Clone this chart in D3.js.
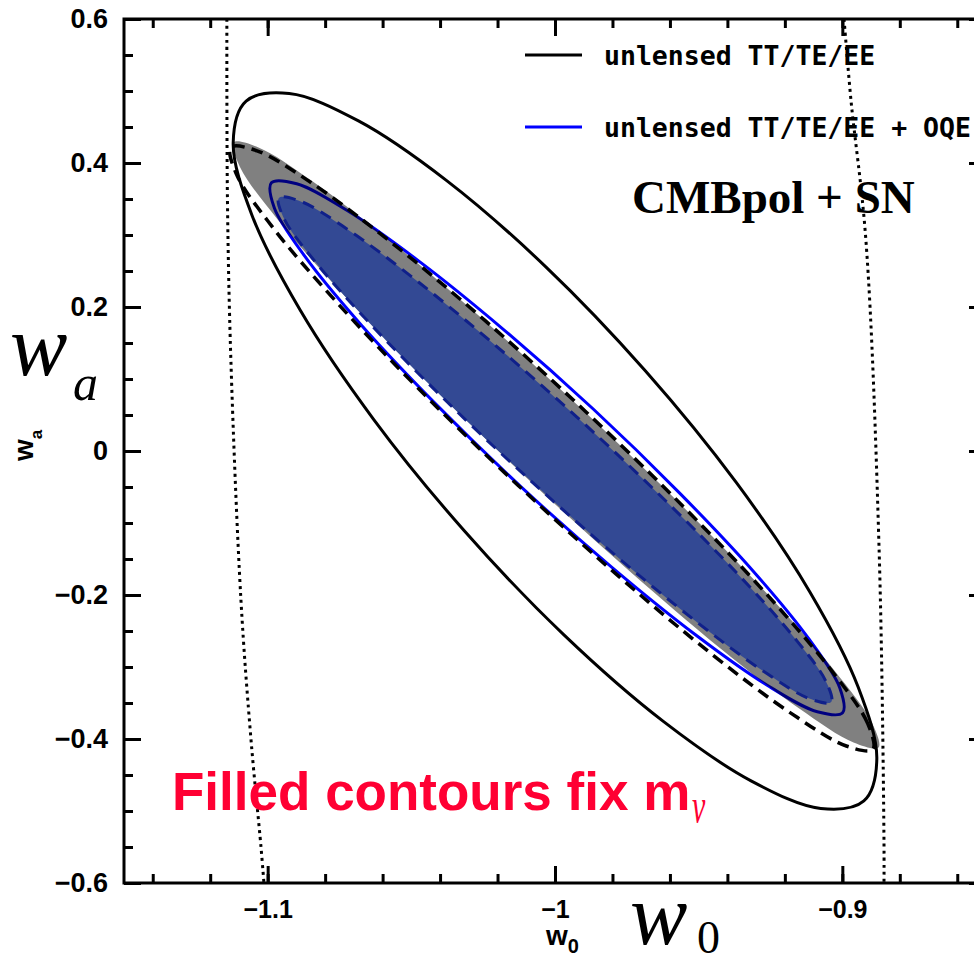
<!DOCTYPE html>
<html>
<head>
<meta charset="utf-8">
<script src="https://cdn.jsdelivr.net/npm/d3@7"></script>
<style>
body { margin: 0; background: #fff; }
svg { display: block; }
</style>
</head>
<body>
<div id="chart"></div>
<script>
var svgWidth = 974, svgHeight = 963;

// axis values
var xMajor = [-1.1, -1, -0.9];
var xTickLabels = ["\u22121.1", "\u22121", "\u22120.9"];
var xMinor = [-1.14, -1.12, -1.10, -1.08, -1.06, -1.04, -1.02, -1.00, -0.98, -0.96, -0.94, -0.92, -0.90, -0.88, -0.86];
var yMajor = [-0.6, -0.4, -0.2, 0, 0.2, 0.4, 0.6];
var yTickLabels = ["\u22120.6", "\u22120.4", "\u22120.2", "0", "0.2", "0.4", "0.6"];
var yMinor = [-0.55, -0.5, -0.45, -0.35, -0.3, -0.25, -0.15, -0.1, -0.05, 0.05, 0.1, 0.15, 0.25, 0.3, 0.35, 0.45, 0.5, 0.55];

// contours, [w0, wa] vertices
// unlensed TT/TE/EE (solid black)
var ttContour = [[-0.8925,-0.4860],[-0.8880,-0.4279],[-0.8945,-0.3279],[-0.9113,-0.1958],[-0.9368,-0.0444],
  [-0.9685,0.1111],[-1.0032,0.2558],[-1.0377,0.3756],[-1.0684,0.4585],[-1.0925,0.4965],
  [-1.1075,0.4860],[-1.1120,0.4279],[-1.1055,0.3279],[-1.0887,0.1958],[-1.0632,0.0444],
  [-1.0315,-0.1111],[-0.9968,-0.2558],[-0.9623,-0.3756],[-0.9316,-0.4585],[-0.9075,-0.4965]];
// unlensed TT/TE/EE + OQE (solid blue)
var ttOqeContour = [[-0.8999,-0.3636],[-0.9009,-0.3289],[-0.9115,-0.2617],[-0.9307,-0.1683],[-0.9567,-0.0581],
  [-0.9867,0.0583],[-1.0181,0.1694],[-1.0476,0.2644],[-1.0723,0.3339],[-1.0899,0.3711],
  [-1.0987,0.3725],[-1.0977,0.3378],[-1.0871,0.2706],[-1.0679,0.1772],[-1.0419,0.0669],
  [-1.0119,-0.0494],[-0.9805,-0.1606],[-0.9510,-0.2556],[-0.9263,-0.3250],[-0.9087,-0.3622]];
// m_nu fixed, TT/TE/EE (gray fill)
var fixTT = [[-0.8874,-0.4118],[-0.8897,-0.3775],[-0.9027,-0.3053],[-0.9252,-0.2026],[-0.9550,-0.0792],
  [-0.9892,0.0529],[-1.0244,0.1806],[-1.0572,0.2915],[-1.0843,0.3744],[-1.1032,0.4217],
  [-1.1119,0.4285],[-1.1096,0.3942],[-1.0966,0.3219],[-1.0741,0.2193],[-1.0443,0.0958],
  [-1.0101,-0.0363],[-0.9749,-0.1639],[-0.9422,-0.2749],[-0.9150,-0.3578],[-0.8961,-0.4050]];
// m_nu fixed, TT/TE/EE + OQE (blue fill)
var fixTTOqe = [[-0.9039,-0.3486],[-0.9058,-0.3192],[-0.9169,-0.2583],[-0.9361,-0.1721],[-0.9616,-0.0688],
  [-0.9908,0.0414],[-1.0210,0.1476],[-1.0491,0.2396],[-1.0723,0.3081],[-1.0885,0.3467],
  [-1.0961,0.3514],[-1.0942,0.3219],[-1.0831,0.2611],[-1.0639,0.1749],[-1.0384,0.0715],
  [-1.0092,-0.0386],[-0.9790,-0.1449],[-0.9509,-0.2368],[-0.9277,-0.3053],[-0.9115,-0.3439]];
// dashed black
var dashedTT = [[-0.8894,-0.4144],[-0.8912,-0.3783],[-0.9038,-0.3047],[-0.9258,-0.2013],[-0.9553,-0.0774],
  [-0.9892,0.0543],[-1.0243,0.1810],[-1.0572,0.2904],[-1.0845,0.3717],[-1.1037,0.4169],
  [-1.1128,0.4217],[-1.1110,0.3856],[-1.0985,0.3119],[-1.0764,0.2085],[-1.0470,0.0846],
  [-1.0130,-0.0471],[-0.9779,-0.1738],[-0.9451,-0.2832],[-0.9178,-0.3644],[-0.8986,-0.4097]];
// dotted priors
var dotLeft = [[-1.1142,0.6],[-1.1140,0.349],[-1.1128,0.126],[-1.1093,-0.207],[-1.1058,-0.401],[-1.1023,-0.551],[-1.1013,-0.6]];
var dotRight = [[-0.8994,0.6],[-0.8970,0.4875],[-0.8918,0.293],[-0.8872,-0.1375],[-0.8855,-0.544],[-0.8855,-0.6]];

var legendLabels = ["unlensed TT/TE/EE", "unlensed TT/TE/EE + OQE"];
var legendColors = ["#000", "#0000ff"];

var x = d3.scaleLinear().domain([-1.15, -0.85]).range([124, 986]);
var y = d3.scaleLinear().domain([-0.6, 0.6]).range([883, 19]);

var svg = d3.select("#chart").append("svg")
    .attr("width", svgWidth)
    .attr("height", svgHeight);

svg.append("clipPath").attr("id", "plotClip")
    .append("rect")
    .attr("x", x.range()[0]).attr("y", y.range()[1])
    .attr("width", x.range()[1] - x.range()[0])
    .attr("height", y.range()[0] - y.range()[1]);

var closedLine = d3.line()
    .x(function(d){ return x(d[0]); })
    .y(function(d){ return y(d[1]); })
    .curve(d3.curveCatmullRomClosed.alpha(0.5));

var openLine = d3.line()
    .x(function(d){ return x(d[0]); })
    .y(function(d){ return y(d[1]); })
    .curve(d3.curveCatmullRom.alpha(0.5));

var g = svg.append("g").attr("clip-path", "url(#plotClip)");

// dotted lines
[dotLeft, dotRight].forEach(function(pts){
    g.append("path").datum(pts)
        .attr("d", openLine)
        .attr("fill", "none")
        .attr("stroke", "#000")
        .attr("stroke-width", 3)
        .attr("stroke-dasharray", "3,4");
});

g.append("path").datum(ttContour)
    .attr("d", closedLine)
    .attr("fill", "none").attr("stroke", "#000").attr("stroke-width", 3);

g.append("path").datum(ttOqeContour)
    .attr("d", closedLine)
    .attr("fill", "none").attr("stroke", "#0000ff").attr("stroke-width", 3);

// gray darkens the blue line where they overlap
g.append("path").datum(fixTT)
    .attr("d", closedLine)
    .attr("fill", "#808080")
    .style("mix-blend-mode", "multiply");

g.append("path").datum(fixTTOqe)
    .attr("d", closedLine)
    .attr("fill", "#334994")
    .attr("stroke", "#10208a").attr("stroke-width", 3)
    .attr("stroke-dasharray", "12,8");

g.append("path").datum(dashedTT)
    .attr("d", closedLine)
    .attr("fill", "none").attr("stroke", "#000").attr("stroke-width", 3.5)
    .attr("stroke-dasharray", "12,7");

// axes
function styleAxis(sel){
    sel.select(".domain").remove();
    sel.selectAll(".tick line").attr("stroke", "#000").attr("stroke-width", 3);
    sel.selectAll("text")
        .attr("fill", "#000")
        .attr("font-family", "'Liberation Sans', Arial, sans-serif")
        .attr("font-weight", "bold");
}

var x0 = x.range()[0], x1 = x.range()[1], y0 = y.range()[0], y1 = y.range()[1];

svg.append("g").attr("transform", "translate(0," + y0 + ")")
    .call(d3.axisBottom(x).tickValues(xMinor).tickSize(-9).tickSizeOuter(0).tickFormat(""))
    .call(styleAxis);
svg.append("g").attr("transform", "translate(0," + y0 + ")")
    .call(d3.axisBottom(x).tickValues(xMajor).tickSize(-17).tickSizeOuter(0).tickPadding(17)
        .tickFormat(function(d, i){ return xTickLabels[i]; }))
    .call(styleAxis)
    .selectAll("text").attr("font-size", 25);

svg.append("g").attr("transform", "translate(0," + y1 + ")")
    .call(d3.axisTop(x).tickValues(xMinor).tickSize(-9).tickSizeOuter(0).tickFormat(""))
    .call(styleAxis);
svg.append("g").attr("transform", "translate(0," + y1 + ")")
    .call(d3.axisTop(x).tickValues(xMajor).tickSize(-17).tickSizeOuter(0).tickFormat(""))
    .call(styleAxis);

svg.append("g").attr("transform", "translate(" + x0 + ",0)")
    .call(d3.axisLeft(y).tickValues(yMinor).tickSize(-9).tickSizeOuter(0).tickFormat(""))
    .call(styleAxis);
svg.append("g").attr("transform", "translate(" + x0 + ",0)")
    .call(d3.axisLeft(y).tickValues(yMajor).tickSize(-17).tickSizeOuter(0).tickPadding(16)
        .tickFormat(function(d, i){ return yTickLabels[i]; }))
    .call(styleAxis)
    .selectAll("text").attr("font-size", 27);

svg.append("g").attr("transform", "translate(" + x1 + ",0)")
    .call(d3.axisRight(y).tickValues(yMinor).tickSize(-9).tickSizeOuter(0).tickFormat(""))
    .call(styleAxis);
svg.append("g").attr("transform", "translate(" + x1 + ",0)")
    .call(d3.axisRight(y).tickValues(yMajor).tickSize(-17).tickSizeOuter(0).tickFormat(""))
    .call(styleAxis);

// frame
svg.append("rect")
    .attr("x", x0).attr("y", y1)
    .attr("width", x1 - x0).attr("height", y0 - y1)
    .attr("fill", "none").attr("stroke", "#000").attr("stroke-width", 3);

// legend
var legend = svg.append("g");
legendLabels.forEach(function(lab, i){
    var ly = 55 + i * 72;
    legend.append("line")
        .attr("x1", 525).attr("x2", 582).attr("y1", ly).attr("y2", ly)
        .attr("stroke", legendColors[i]).attr("stroke-width", 3);
    legend.append("text")
        .attr("x", 604).attr("y", ly + 10)
        .attr("font-family", "'DejaVu Sans Mono', monospace")
        .attr("font-weight", "bold")
        .attr("font-size", 26.5)
        .text(lab);
});

svg.append("text")
    .attr("x", 632).attr("y", 213)
    .attr("font-family", "'Liberation Serif', 'Times New Roman', serif")
    .attr("font-weight", "bold").attr("font-size", 47)
    .text("CMBpol + SN");

var note = svg.append("g").attr("fill", "#ff0033");
note.append("text")
    .attr("x", 172).attr("y", 810)
    .attr("font-family", "'Liberation Sans', Arial, sans-serif")
    .attr("font-weight", "bold").attr("font-size", 53)
    .text("Filled contours fix m");
note.append("text")
    .attr("transform", "translate(692,823) scale(0.6,1)")
    .attr("font-family", "'Liberation Serif', serif")
    .attr("font-style", "italic").attr("font-size", 50)
    .text("\u03bd");

// small axis titles
svg.append("text")
    .attr("x", 546).attr("y", 945)
    .attr("font-family", "'Liberation Sans', Arial, sans-serif")
    .attr("font-weight", "bold").attr("font-size", 28)
    .text("w")
    .append("tspan").attr("font-size", 20).attr("dy", 8).text("0");

svg.append("text")
    .attr("transform", "translate(33,461) rotate(-90)")
    .attr("font-family", "'Liberation Sans', Arial, sans-serif")
    .attr("font-weight", "bold").attr("font-size", 28)
    .text("w")
    .append("tspan").attr("font-size", 17).attr("dy", 9).text("a");

// big italic axis titles
svg.append("text")
    .attr("x", 10).attr("y", 375)
    .attr("font-family", "'Liberation Serif', 'Times New Roman', serif")
    .attr("font-style", "italic").attr("font-size", 86)
    .text("w");
svg.append("text")
    .attr("x", 73).attr("y", 400)
    .attr("font-family", "'Liberation Serif', 'Times New Roman', serif")
    .attr("font-style", "italic").attr("font-size", 50)
    .text("a");

svg.append("text")
    .attr("x", 630).attr("y", 944)
    .attr("font-family", "'Liberation Serif', 'Times New Roman', serif")
    .attr("font-style", "italic").attr("font-size", 86)
    .text("w");
svg.append("text")
    .attr("x", 697).attr("y", 953)
    .attr("font-family", "'Liberation Serif', 'Times New Roman', serif")
    .attr("font-size", 46)
    .text("0");
</script>
</body>
</html>
